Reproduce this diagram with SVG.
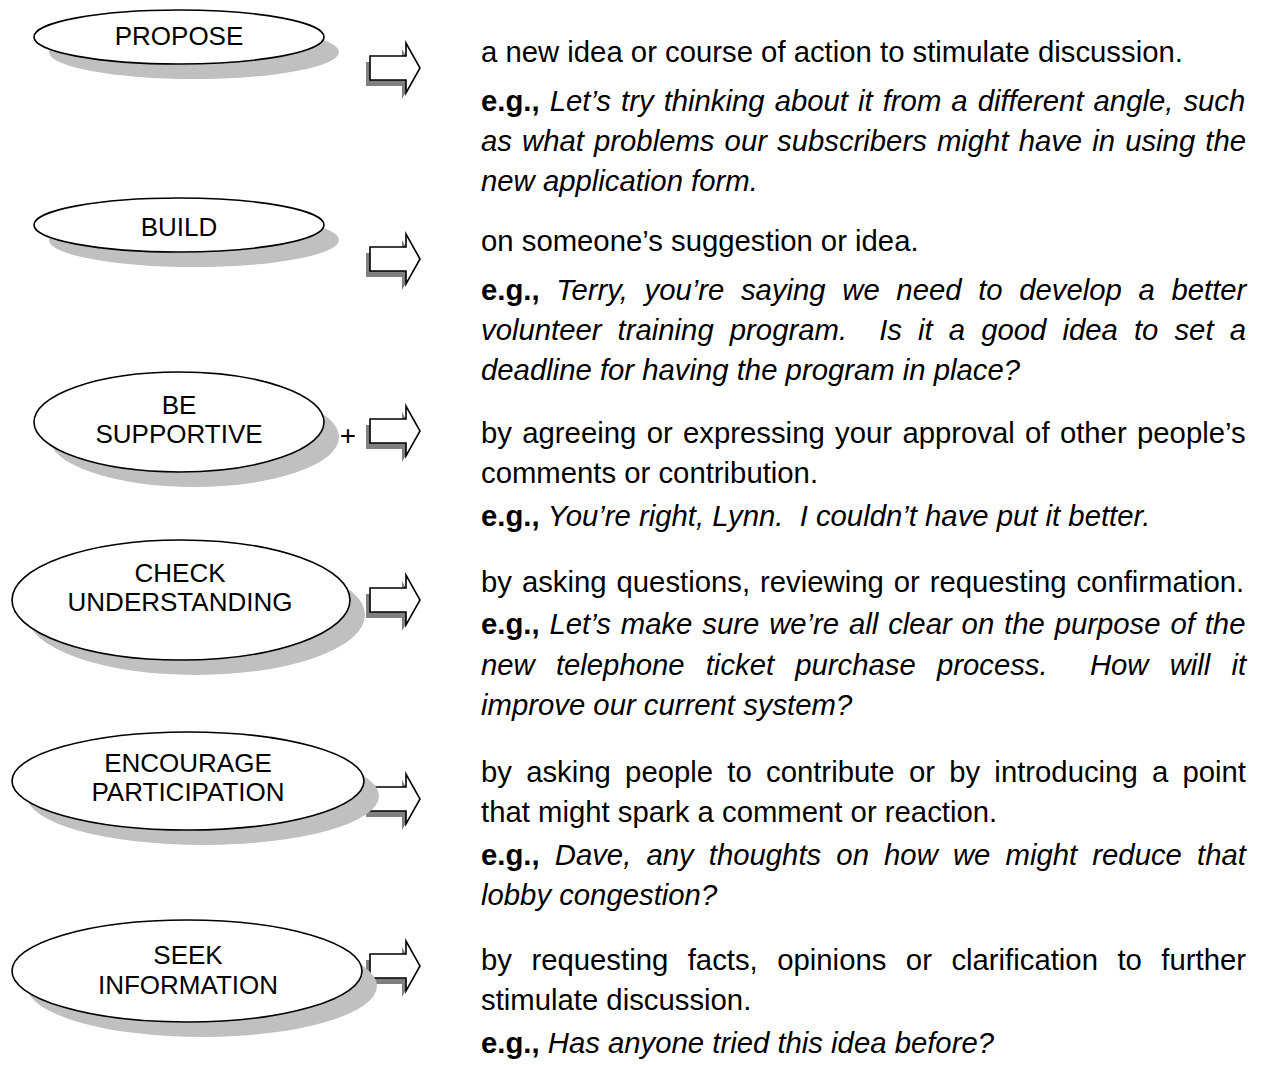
<svg xmlns="http://www.w3.org/2000/svg" xmlns:xlink="http://www.w3.org/1999/xlink" width="1261" height="1065" viewBox="0 0 1261 1065">
<style>
.bg{fill:#ffffff}
.sh{fill:#c0c0c0;stroke:none}
.el{fill:#ffffff;stroke:#000000;stroke-width:1.6}
.lbl{font-family:"Liberation Sans",Arial,sans-serif;font-size:26px;fill:#000;text-anchor:middle}
.plus{font-family:"Liberation Sans",Arial,sans-serif;font-size:28px;fill:#000;text-anchor:middle}
.txt{font-family:"Liberation Sans",Arial,sans-serif;font-size:29.3px;fill:#000}
.b{font-weight:bold;font-style:normal}
.i{font-style:italic}
.ash{fill:#808080;stroke:none}
.arr{fill:#ffffff;stroke:#000000;stroke-width:1.6;stroke-linejoin:miter}
</style>
<defs>
<path id="arrow" d="M370,-12 H406 V-25 L420,0 L406,25 V12 H370 Z"/>
</defs>
<rect class="bg" x="0" y="0" width="1261" height="1065"/>

<g id="connectors">
<g transform="translate(0,68)"><use xlink:href="#arrow" class="ash" transform="translate(-4,6)"/><use xlink:href="#arrow" class="arr"/></g>
<g transform="translate(0,259)"><use xlink:href="#arrow" class="ash" transform="translate(-4,6)"/><use xlink:href="#arrow" class="arr"/></g>
<g transform="translate(0,431)"><use xlink:href="#arrow" class="ash" transform="translate(-4,6)"/><use xlink:href="#arrow" class="arr"/></g>
<g transform="translate(0,600)"><use xlink:href="#arrow" class="ash" transform="translate(-4,6)"/><use xlink:href="#arrow" class="arr"/></g>
<g transform="translate(0,799)"><use xlink:href="#arrow" class="ash" transform="translate(-4,6)"/><use xlink:href="#arrow" class="arr"/></g>
<g transform="translate(0,966)"><use xlink:href="#arrow" class="ash" transform="translate(-4,6)"/><use xlink:href="#arrow" class="arr"/></g>
</g>

<g id="node-propose">
<ellipse class="sh" cx="194" cy="52" rx="145" ry="27"/>
<ellipse class="el" cx="179" cy="37" rx="145" ry="27"/>
<text class="lbl" x="179" y="45">PROPOSE</text>
</g>
<g id="node-build">
<ellipse class="sh" cx="194" cy="240" rx="145" ry="27"/>
<ellipse class="el" cx="179" cy="225" rx="145" ry="27"/>
<text class="lbl" x="179" y="236">BUILD</text>
</g>
<g id="node-supportive">
<ellipse class="sh" cx="194" cy="437" rx="145" ry="50"/>
<ellipse class="el" cx="179" cy="422" rx="145" ry="50"/>
<text class="lbl" x="179" y="414">BE</text>
<text class="lbl" x="179" y="443">SUPPORTIVE</text>
<text class="plus" x="348" y="445">+</text>
</g>
<g id="node-check">
<ellipse class="sh" cx="196" cy="615" rx="169" ry="60"/>
<ellipse class="el" cx="181" cy="600" rx="169" ry="60"/>
<text class="lbl" x="180" y="582">CHECK</text>
<text class="lbl" x="180" y="611">UNDERSTANDING</text>
</g>
<g id="node-encourage">
<ellipse class="sh" cx="203" cy="796" rx="176" ry="49"/>
<ellipse class="el" cx="188" cy="781" rx="176" ry="49"/>
<text class="lbl" x="188" y="772">ENCOURAGE</text>
<text class="lbl" x="188" y="801">PARTICIPATION</text>
</g>
<g id="node-seek">
<ellipse class="sh" cx="202" cy="986" rx="175" ry="51"/>
<ellipse class="el" cx="187" cy="971" rx="175" ry="51"/>
<text class="lbl" x="188" y="964">SEEK</text>
<text class="lbl" x="188" y="994">INFORMATION</text>
</g>

<g id="desc-propose" class="txt">
<text x="481" y="62">a new idea or course of action to stimulate discussion.</text>
<text x="481" y="111" word-spacing="1.9"><tspan class="b">e.g.,</tspan> <tspan class="i">Let’s try thinking about it from a different angle, such</tspan></text>
<text class="i" x="481" y="151" word-spacing="1.95">as what problems our subscribers might have in using the</text>
<text class="i" x="481" y="191">new application form.</text>
</g>
<g id="desc-build" class="txt">
<text x="481" y="251">on someone’s suggestion or idea.</text>
<text x="481" y="300" word-spacing="8.5"><tspan class="b">e.g.,</tspan> <tspan class="i">Terry, you’re saying we need to develop a better</tspan></text>
<text class="i" x="481" y="340" word-spacing="7.95" xml:space="preserve">volunteer training program.  Is it a good idea to set a</text>
<text class="i" x="481" y="380">deadline for having the program in place?</text>
</g>
<g id="desc-supportive" class="txt">
<text x="481" y="443" word-spacing="2.2">by agreeing or expressing your approval of other people’s</text>
<text x="481" y="483">comments or contribution.</text>
<text x="481" y="526" xml:space="preserve"><tspan class="b">e.g.,</tspan> <tspan class="i">You’re right, Lynn.  I couldn’t have put it better.</tspan></text>
</g>
<g id="desc-check" class="txt">
<text x="481" y="592" word-spacing="1.8">by asking questions, reviewing or requesting confirmation.</text>
<text x="481" y="634" word-spacing="1.74"><tspan class="b">e.g.,</tspan> <tspan class="i">Let’s make sure we’re all clear on the purpose of the</tspan></text>
<text class="i" x="481" y="675" word-spacing="13" xml:space="preserve">new telephone ticket purchase process.  How will it</text>
<text class="i" x="481" y="715">improve our current system?</text>
</g>
<g id="desc-encourage" class="txt">
<text x="481" y="782" word-spacing="6.1">by asking people to contribute or by introducing a point</text>
<text x="481" y="822">that might spark a comment or reaction.</text>
<text x="481" y="865" word-spacing="7"><tspan class="b">e.g.,</tspan> <tspan class="i">Dave, any thoughts on how we might reduce that</tspan></text>
<text class="i" x="481" y="905">lobby congestion?</text>
</g>
<g id="desc-seek" class="txt">
<text x="481" y="970" word-spacing="11.35">by requesting facts, opinions or clarification to further</text>
<text x="481" y="1010">stimulate discussion.</text>
<text x="481" y="1053"><tspan class="b">e.g.,</tspan> <tspan class="i">Has anyone tried this idea before?</tspan></text>
</g>
</svg>
